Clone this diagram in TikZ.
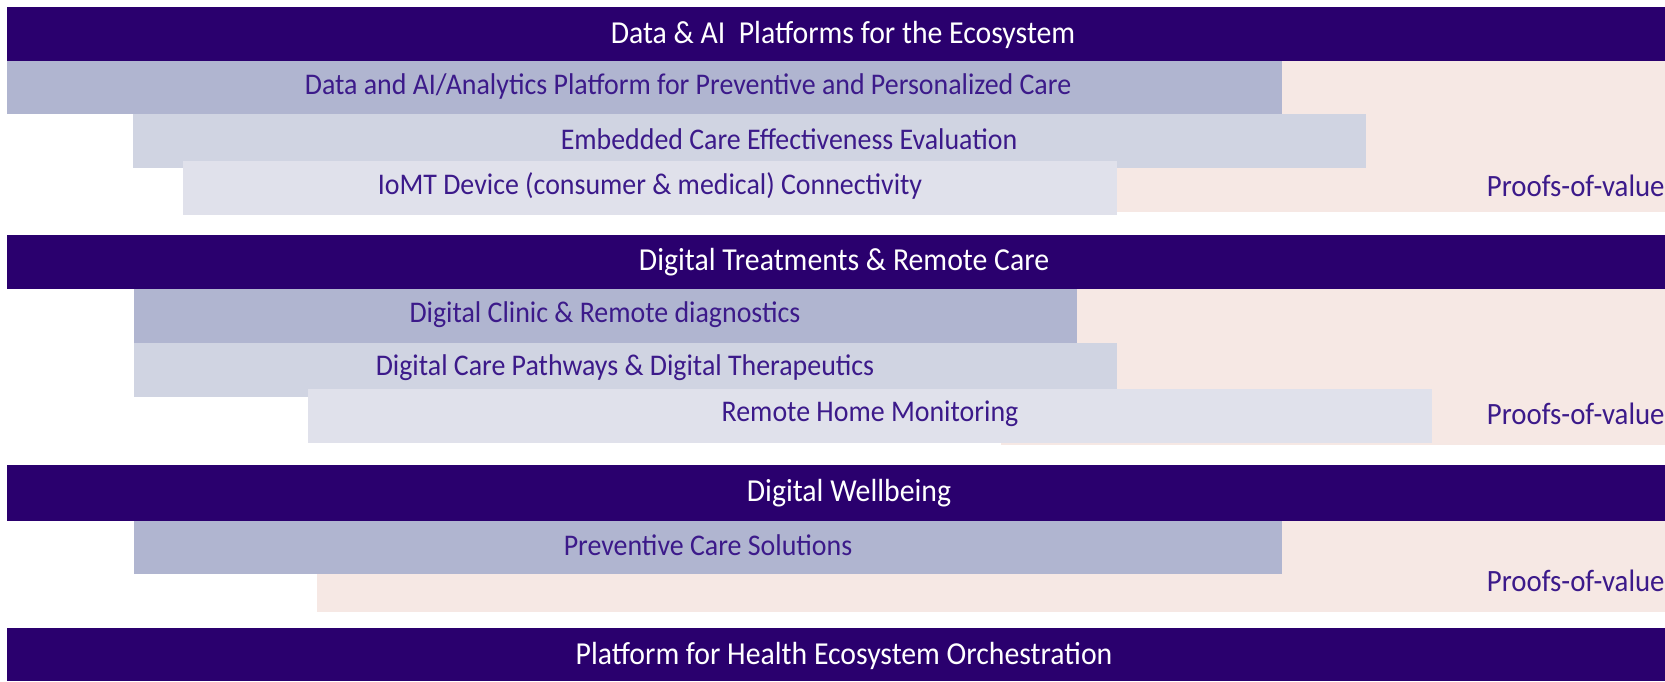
\documentclass[tikz,border=0pt]{standalone}
\usepackage{fontspec}
\setmainfont{Carlito}[FakeStretch=0.93]
\usepackage{tikz}

\definecolor{darkband}{HTML}{2A006E}
\definecolor{lavA}{HTML}{B0B5D0}
\definecolor{lavB}{HTML}{D0D4E2}
\definecolor{lavC}{HTML}{E0E1EB}
\definecolor{peach}{HTML}{F6E8E4}
\definecolor{labelpurple}{HTML}{3C1A8A}

\tikzset{
  headtext/.style={text=white, inner sep=0, font=\fontsize{16}{18}\selectfont},
  bandtext/.style={text=labelpurple, inner sep=0, font=\fontsize{15}{17}\selectfont},
  povtext/.style={bandtext, anchor=east, font=\fontsize{15.5}{17}\selectfont},
}

\begin{document}
\begin{tikzpicture}[x=0.5pt, y=-0.5pt]
    \useasboundingbox (0,0) rectangle (1665,681);

    % Data & AI platforms
    \fill[peach] (1000,61) rectangle (1665,212);
    \fill[darkband] (7,7) rectangle (1665,61);
    \fill[lavA] (7,61) rectangle (1282,114);
    \fill[lavB] (133,114) rectangle (1366,168);
    \fill[lavC] (183,161) rectangle (1117,215);
    \node[headtext] (dataai) at (843,35) {Data \& AI\ \ Platforms for the Ecosystem};
    \node[bandtext] (analytics) at (688,86) {Data and AI/Analytics Platform for Preventive and Personalized Care};
    \node[bandtext] (embedded) at (789,139) {Embedded Care Effectiveness Evaluation};
    \node[bandtext] (iomt) at (650,186) {IoMT Device (consumer \& medical) Connectivity};
    \node[povtext] (povone) at (1665,186) {Proofs-of-value};

    % Digital treatments
    \fill[peach] (1001,289) rectangle (1665,445);
    \fill[darkband] (7,235) rectangle (1665,289);
    \fill[lavA] (134,289) rectangle (1077,343);
    \fill[lavB] (134,343) rectangle (1117,397);
    \fill[lavC] (308,389) rectangle (1432,443);
    \node[headtext] (treat) at (844,262) {Digital Treatments \& Remote Care};
    \node[bandtext] (clinic) at (605,315) {Digital Clinic \& Remote diagnostics};
    \node[bandtext] (pathways) at (625,368) {Digital Care Pathways \& Digital Therapeutics};
    \node[bandtext] (remote) at (870,414) {Remote Home Monitoring};
    \node[povtext] (povtwo) at (1665,414) {Proofs-of-value};

    % Wellbeing
    \fill[peach] (317,521) rectangle (1665,612);
    \fill[darkband] (7,465) rectangle (1665,521);
    \fill[lavA] (134,521) rectangle (1282,574);
    \node[headtext] (wellbeing) at (849,493) {Digital Wellbeing};
    \node[bandtext] (preventive) at (708,545) {Preventive Care Solutions};
    \node[povtext] (povthree) at (1665,581) {Proofs-of-value};

    % Orchestration
    \fill[darkband] (7,628) rectangle (1665,681);
    \node[headtext] (orchestration) at (844,656) {Platform for Health Ecosystem Orchestration};
\end{tikzpicture}
\end{document}
